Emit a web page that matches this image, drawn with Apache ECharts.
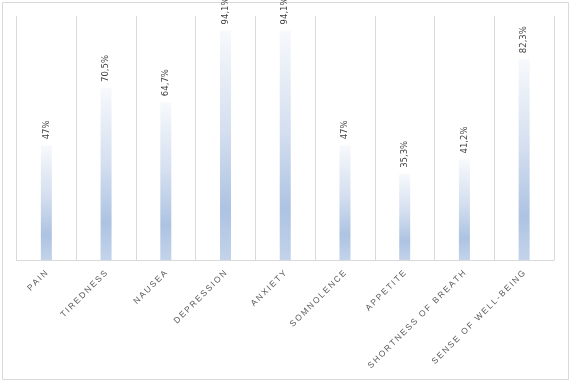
<!DOCTYPE html>
<html><head><meta charset="utf-8">
<script src="https://cdn.jsdelivr.net/npm/echarts@6/dist/echarts.min.js"></script>
<style>html,body{margin:0;padding:0;background:#fff}#c{width:572px;height:383px}</style>
</head><body><div id="c"></div>
<script>
const categories = ["PAIN","TIREDNESS","NAUSEA","DEPRESSION","ANXIETY","SOMNOLENCE","APPETITE","SHORTNESS OF BREATH","SENSE OF WELL-BEING"];
const values = [47, 70.5, 64.7, 94.1, 94.1, 47, 35.3, 41.2, 82.3];
const valueLabels = ["47%","70,5%","64,7%","94,1%","94,1%","47%","35,3%","41,2%","82,3%"];

const chart = echarts.init(document.getElementById('c'), null, {renderer:'canvas'});
chart.setOption({
  animation:false,
  graphic:[{type:'rect',shape:{x:2.5,y:2.5,width:566,height:377},style:{fill:'none',stroke:'#d9d9d9',lineWidth:1},silent:true}],
  grid:{left:16.5,right:18,top:16,bottom:123},
  xAxis:{type:'category',data:categories,boundaryGap:true,
    axisLine:{lineStyle:{color:'#d9d9d9'}},axisTick:{show:false},
    splitLine:{show:true,lineStyle:{color:'#d9d9d9',width:1}},
    axisLabel:{interval:0,rotate:45,margin:12,color:'#595959',fontFamily:'Liberation Sans',fontSize:8.5,
      formatter:v=>v.split('').join('\u2009')}},
  yAxis:{type:'value',min:0,max:100,show:false,splitLine:{show:false}},
  series:[{type:'bar',data:values,barWidth:11,
    itemStyle:{color:new echarts.graphic.LinearGradient(0,0,0,1,[
      {offset:0,color:'#f7f9fc'},{offset:0.45,color:'#d3deef'},{offset:0.78,color:'#adc3e2'},{offset:1,color:'#c3d3ea'}])}},
  {type:'custom',data:values.map((v,i)=>[i,v]),z:5,
    renderItem:function(params,api){
      const p = api.coord([api.value(0), api.value(1)]);
      return {type:'text',x:p[0],y:p[1]-6,rotation:Math.PI/2,
        style:{text:valueLabels[params.dataIndex],align:'left',verticalAlign:'middle',
          fill:'#404040',font:'8.5px "DejaVu Sans"'}};
    }}]
});
</script></body></html>
